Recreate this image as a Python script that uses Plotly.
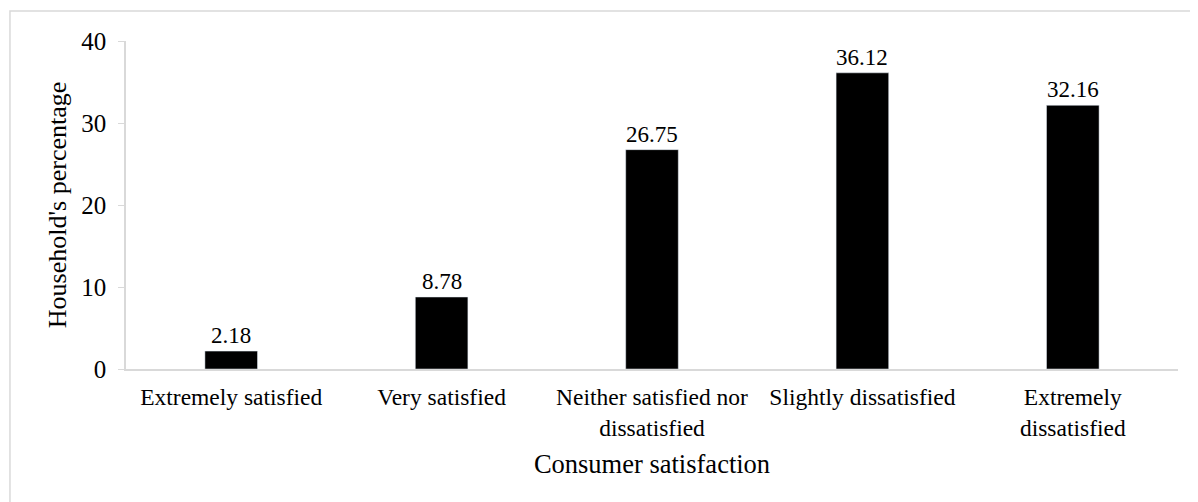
import plotly.graph_objects as go

categories = ["Extremely satisfied", "Very satisfied", "Neither satisfied nor<br>dissatisfied",
              "Slightly dissatisfied", "Extremely<br>dissatisfied"]
values = [2.18, 8.78, 26.75, 36.12, 32.16]
labels = ["2.18", "8.78", "26.75", "36.12", "32.16"]

font_family = "Liberation Serif"

fig = go.Figure(go.Bar(
    x=categories, y=values, marker=dict(color="black"), cliponaxis=False,
))

for c, v, t in zip(categories, values, labels):
    fig.add_annotation(x=c, y=v, text=t, showarrow=False, yanchor="bottom", yshift=1,
                       font=dict(size=23, color="black", family=font_family))

fig.update_layout(
    width=1198, height=502,
    margin=dict(l=118, r=28, t=33, b=141),
    plot_bgcolor="white", paper_bgcolor="white",
    bargap=0.75, showlegend=False,
    font=dict(family=font_family, size=24, color="black"),
    xaxis=dict(
        title=dict(text="Consumer satisfaction", font=dict(size=26.5, family=font_family), standoff=15),
        showline=True, linecolor="#d9d9d9", linewidth=1.5, ticks="", showgrid=False,
        tickfont=dict(size=23.5, family=font_family), automargin=False, ticklabelstandoff=6,
    ),
    yaxis=dict(
        title=dict(text="Household's percentage", font=dict(size=26, family=font_family), standoff=7),
        range=[0, 40], dtick=10, showline=True, linecolor="#d9d9d9", linewidth=1.5,
        ticks="outside", ticklen=6, tickcolor="#d9d9d9", showgrid=False, zeroline=False,
        tickfont=dict(size=25, family=font_family), automargin=False, ticklabelstandoff=7,
    ),
    shapes=[dict(type="rect", xref="paper", yref="paper",
                 x0=-0.1103, x1=1.05, y0=-0.6, y1=1.0915,
                 line=dict(color="#d9d9d9", width=1.5))],
)

fig.write_html("out.html")
